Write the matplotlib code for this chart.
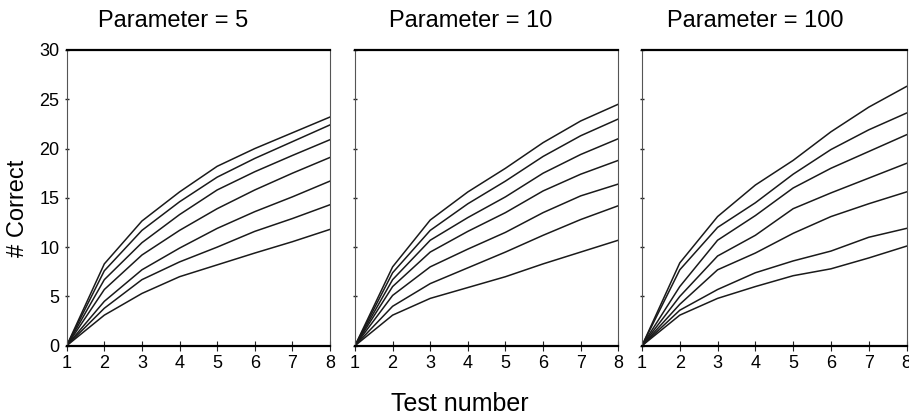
import matplotlib
matplotlib.use("Agg")
import matplotlib.pyplot as plt
import numpy as np

plt.rcParams['font.family'] = ['Liberation Sans', 'DejaVu Sans']

test_numbers = [1, 2, 3, 4, 5, 6, 7, 8]
titles = ["Parameter = 5", "Parameter = 10", "Parameter = 100"]
y_ticks = [0, 5, 10, 15, 20, 25, 30]

param5 = [
    [0, 8.3, 12.65, 15.6, 18.2, 20.0, 21.6, 23.2],
    [0, 7.6, 11.7, 14.6, 17.1, 19.0, 20.7, 22.4],
    [0, 6.7, 10.45, 13.3, 15.8, 17.65, 19.3, 20.9],
    [0, 5.7, 9.2, 11.7, 13.9, 15.8, 17.5, 19.1],
    [0, 4.5, 7.7, 9.9, 11.9, 13.6, 15.1, 16.7],
    [0, 3.8, 6.7, 8.5, 10.0, 11.6, 12.9, 14.3],
    [0, 3.1, 5.3, 7.0, 8.2, 9.4, 10.55, 11.8],
]
param10 = [
    [0, 8.0, 12.75, 15.6, 18.0, 20.6, 22.8, 24.5],
    [0, 7.4, 11.7, 14.4, 16.7, 19.2, 21.3, 23.0],
    [0, 6.7, 10.7, 13.0, 15.1, 17.5, 19.4, 21.0],
    [0, 6.0, 9.5, 11.6, 13.5, 15.7, 17.4, 18.8],
    [0, 5.1, 8.0, 9.8, 11.5, 13.5, 15.2, 16.4],
    [0, 4.0, 6.3, 7.9, 9.5, 11.2, 12.8, 14.2],
    [0, 3.1, 4.8, 5.9, 7.0, 8.3, 9.5, 10.7],
]
param100 = [
    [0, 8.4, 13.1, 16.3, 18.8, 21.7, 24.2, 26.3],
    [0, 7.7, 12.0, 14.5, 17.4, 19.9, 21.9, 23.6],
    [0, 6.0, 10.7, 13.2, 16.0, 18.0, 19.7, 21.4],
    [0, 5.0, 9.1, 11.2, 13.9, 15.5, 17.0, 18.5],
    [0, 4.2, 7.7, 9.4, 11.4, 13.1, 14.4, 15.6],
    [0, 3.6, 5.7, 7.4, 8.6, 9.6, 11.0, 11.9],
    [0, 3.1, 4.8, 6.0, 7.1, 7.8, 8.9, 10.1],
]
panels = [param5, param10, param100]

W, H = 909, 420
fig = plt.figure(figsize=(W / 100, H / 100), dpi=100)

# axes boxes in pixels: (left, right)
boxes = [(66.7, 330.0), (355.0, 618.3), (642.0, 906.5)]
top_px, bot_px = 50.0, 345.7
title_cx = [173, 471, 755]

for i, (data, (l, r)) in enumerate(zip(panels, boxes)):
    ax = fig.add_axes([l / W, 1 - bot_px / H, (r - l) / W, (bot_px - top_px) / H])
    for series in data:
        ax.plot(test_numbers, series, color='#1a1a1a', lw=1.1, solid_joinstyle='miter')
    ax.set_xlim(1, 8)
    ax.set_ylim(0, 30)
    ax.set_xticks(test_numbers)
    ax.set_yticks(y_ticks)
    ax.tick_params(axis='x', direction='inout', length=7, width=0.8, pad=3.5,
                   labelsize=13, color='#222222')
    ax.tick_params(axis='y', direction='inout', length=2.5, width=1.0, pad=4.0,
                   labelsize=13, color='#222222')
    if i > 0:
        ax.set_yticklabels([])
    for s in ['top', 'bottom']:
        ax.spines[s].set_linewidth(1.6)
        ax.spines[s].set_color('black')
    for s in ['left', 'right']:
        ax.spines[s].set_linewidth(0.8)
        ax.spines[s].set_color('#555555')
    fig.text(title_cx[i] / W, 1 - 21 / H, titles[i], ha='center', va='center', fontsize=17)

fig.text(18 / W, 1 - 208 / H, "# Correct", rotation=90, ha='center', va='center', fontsize=17)
fig.text(460 / W, 1 - 404 / H, "Test number", ha='center', va='center', fontsize=18)

fig.savefig("out.png", dpi=100)
